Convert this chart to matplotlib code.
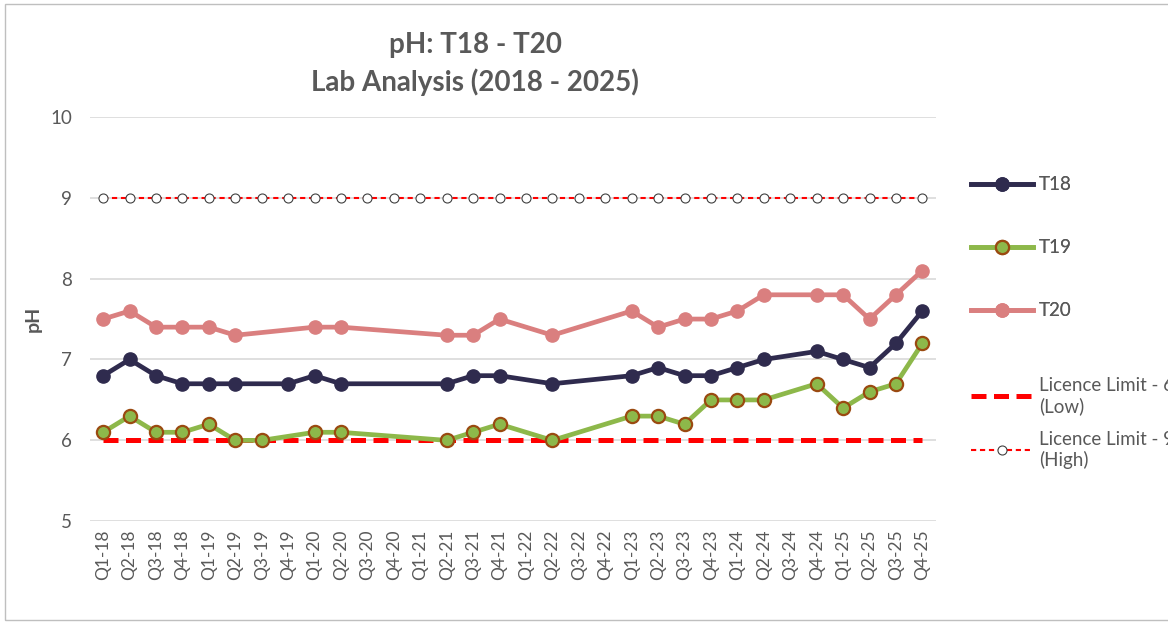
import numpy as np
import matplotlib.pyplot as plt
from matplotlib.patches import Rectangle

plt.rcParams['font.family'] = ['Lato', 'DejaVu Sans']

quarters = [f"Q{q}-{y}" for y in range(18, 26) for q in range(1, 5)]
nan = np.nan
t18 = [6.8, 7.0, 6.8, 6.7, 6.7, 6.7, nan, 6.7, 6.8, 6.7, nan, nan, nan, 6.7, 6.8, 6.8,
       nan, 6.7, nan, nan, 6.8, 6.9, 6.8, 6.8, 6.9, 7.0, nan, 7.1, 7.0, 6.9, 7.2, 7.6]
t19 = [6.1, 6.3, 6.1, 6.1, 6.2, 6.0, 6.0, nan, 6.1, 6.1, nan, nan, nan, 6.0, 6.1, 6.2,
       nan, 6.0, nan, nan, 6.3, 6.3, 6.2, 6.5, 6.5, 6.5, nan, 6.7, 6.4, 6.6, 6.7, 7.2]
t20 = [7.5, 7.6, 7.4, 7.4, 7.4, 7.3, nan, nan, 7.4, 7.4, nan, nan, nan, 7.3, 7.3, 7.5,
       nan, 7.3, nan, nan, 7.6, 7.4, 7.5, 7.5, 7.6, 7.8, nan, 7.8, 7.8, 7.5, 7.8, 8.1]
limit_low = [6.0] * len(quarters)
limit_high = [9.0] * len(quarters)

grey = "#595959"
fig = plt.figure(figsize=(11.68, 6.25), dpi=100)
ax = fig.add_axes([0.077, 0.166, 0.724, 0.647])
x = np.arange(len(quarters))


def plot_series(vals, **kw):
    # Excel-style: skip empty quarters but keep the line connected
    v = np.array(vals, dtype=float)
    m = ~np.isnan(v)
    return ax.plot(x[m], v[m], **kw)[0]


h_low = ax.plot(x, limit_low, color="#FF0000", lw=3.6, dashes=(3.0, 1.5), zorder=2,
                label="Licence Limit - 6\n(Low)")[0]
h_high = ax.plot(x, limit_high, color="#FF0000", lw=1.5, dashes=(2.5, 1.8), marker="o",
                 markersize=6.5, markerfacecolor="white", markeredgecolor="#404040",
                 markeredgewidth=0.8, zorder=2, label="Licence Limit - 9\n(High)")[0]
h18 = plot_series(t18, color="#2F2B4E", lw=3.4, marker="o", markersize=9.5, zorder=4, label="T18")
h19 = plot_series(t19, color="#8DB84A", lw=3.4, marker="o", markersize=9.5,
                  markerfacecolor="#8DB84A", markeredgecolor="#9A4A10", markeredgewidth=1.6,
                  zorder=4, label="T19")
h20 = plot_series(t20, color="#DA7F7F", lw=3.4, marker="o", markersize=9.5, zorder=3, label="T20")

ax.set_xlim(-0.5, len(quarters) - 0.5)
ax.set_ylim(5, 10)
ax.set_yticks(range(5, 11))
ax.set_xticks(x)
ax.set_xticklabels(quarters, rotation=90, fontsize=12.5, color=grey)
ax.tick_params(axis="y", labelsize=13.5, colors=grey, length=0, pad=13)
ax.tick_params(axis="x", length=0, pad=6)
ax.grid(axis="y", color="#D9D9D9", lw=1.2)
ax.set_axisbelow(True)
for s in ax.spines.values():
    s.set_visible(False)
ax.set_ylabel("pH", fontsize=14, fontweight="bold", color=grey, labelpad=6)

fig.text(0.407, 0.928, "pH: T18 - T20", ha="center", va="center", fontsize=20,
         fontweight="bold", color=grey)
fig.text(0.407, 0.869, "Lab Analysis (2018 - 2025)", ha="center", va="center", fontsize=20,
         fontweight="bold", color=grey)

leg1 = fig.legend(handles=[h18, h19, h20], loc="upper left",
                  bbox_to_anchor=(0.823, 0.733), frameon=False, fontsize=13.5,
                  labelcolor=grey, handlelength=3.3, handletextpad=0.35,
                  labelspacing=2.45, borderpad=0)
fig.add_artist(leg1)
leg2 = fig.legend(handles=[h_low, h_high], loc="upper left",
                  bbox_to_anchor=(0.823, 0.412), frameon=False, fontsize=13.5,
                  labelcolor=grey, handlelength=3.3, handletextpad=0.35,
                  labelspacing=0.85, borderpad=0)

fig.add_artist(Rectangle((0.004, 0.008), 1.2, 0.985, transform=fig.transFigure,
                         fill=False, edgecolor="#BFBFBF", lw=1))

fig.savefig("out.png", dpi=100)
